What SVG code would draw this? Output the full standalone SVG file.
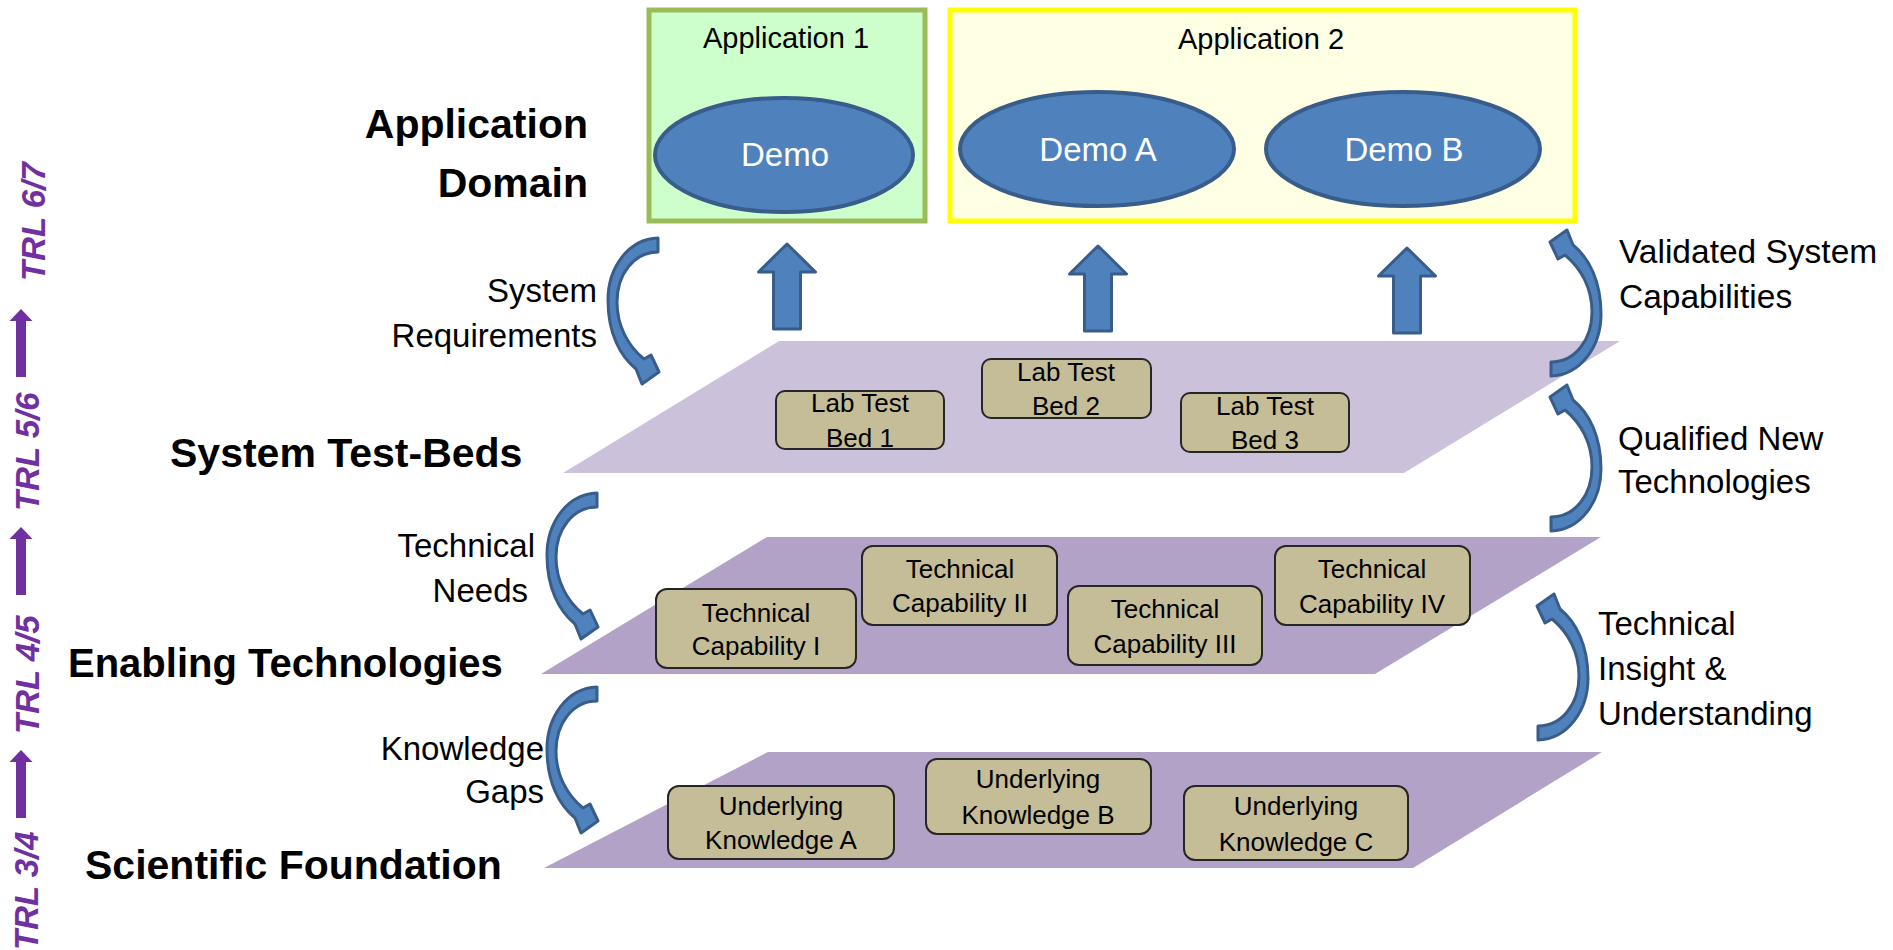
<svg xmlns="http://www.w3.org/2000/svg" xmlns:xlink="http://www.w3.org/1999/xlink" width="1893" height="950" viewBox="0 0 1893 950">
<defs>
<style>
text{font-family:"Liberation Sans",Arial,sans-serif;fill:#000}
.hdr{font-size:41px;font-weight:bold}
.lbl{font-size:33px}
.end{text-anchor:end}
.box{fill:#C4BD97;stroke:#262626;stroke-width:2}
.bt{font-size:26px;text-anchor:middle}
.demo{fill:#4F81BD;stroke:#385D8A;stroke-width:4}
.dt{font-size:33px;fill:#fff;text-anchor:middle}
.blk{fill:#4F81BD;stroke:#385D8A;stroke-width:3;stroke-linejoin:round}
.trl{font-size:33px;font-weight:bold;font-style:italic;fill:#7030A0}
.trla{fill:#7030A0}
</style>
<path id="curv" d="M0,0 C-30,1 -50,30 -50,62 C-50,95 -38,118 -22,131 L-16,146 L1,134 L-7,117 L-14,121 C-30,108 -41,88 -41,64 C-41,36 -24,14 0,14 Z"/>
<path id="up" d="M0,0 L28.5,28 L13.5,28 L13.5,85 L-13.5,85 L-13.5,28 L-28.5,28 Z"/>
<path id="trlup" d="M0,0 L11.5,12 L5,12 L5,68 L-5,68 L-5,12 L-11.5,12 Z"/>
</defs>
<rect width="1893" height="950" fill="#fff"/>

<g id="trl-scale">
<text class="trl" transform="translate(45,281) rotate(-90)">TRL 6/7</text>
<text class="trl" transform="translate(39,511) rotate(-90)">TRL 5/6</text>
<text class="trl" transform="translate(39,734) rotate(-90)">TRL 4/5</text>
<text class="trl" transform="translate(38,950) rotate(-90)">TRL 3/4</text>
<use xlink:href="#trlup" class="trla" x="21" y="309"/>
<use xlink:href="#trlup" class="trla" x="21" y="527"/>
<use xlink:href="#trlup" class="trla" x="21" y="750"/>
</g>

<g id="layer-labels">
<text class="hdr end" x="588" y="138">Application</text>
<text class="hdr end" x="588" y="197">Domain</text>
<text class="hdr" x="170" y="467" font-size="37">System Test-Beds</text>
<text class="hdr" x="68" y="677" style="font-size:40px">Enabling Technologies</text>
<text class="hdr" x="85" y="879" style="font-size:41px">Scientific Foundation</text>
</g>

<g id="plane-system-test-beds">
<polygon points="779,341 1620,341 1404,473 563,473" fill="#CCC1DA"/>
</g>
<g id="plane-enabling-technologies">
<polygon points="767,537 1601,537 1375,674 541,674" fill="#B3A2C7"/>
</g>
<g id="plane-scientific-foundation">
<polygon points="768,752 1602,752 1413,868 544,868" fill="#B3A2C7"/>
</g>

<g id="application-1">
<rect x="649" y="10" width="276" height="211" fill="#CCFFCC" stroke="#9BBB59" stroke-width="5"/>
<text class="lbl" x="786" y="48" text-anchor="middle" style="font-size:29px">Application 1</text>
</g>
<g id="demo">
<ellipse class="demo" cx="784" cy="155" rx="129" ry="57"/>
<text class="dt" x="785" y="166">Demo</text>
</g>
<g id="application-2">
<rect x="950" y="10" width="625" height="211" fill="#FFFFE3" stroke="#FFFF00" stroke-width="5"/>
<text class="lbl" x="1261" y="49" text-anchor="middle" style="font-size:29px">Application 2</text>
</g>
<g id="demo-a">
<ellipse class="demo" cx="1097" cy="149" rx="137" ry="57"/>
<text class="dt" x="1098" y="161">Demo A</text>
</g>
<g id="demo-b">
<ellipse class="demo" cx="1403" cy="149" rx="137" ry="57"/>
<text class="dt" x="1404" y="161">Demo B</text>
</g>

<g id="lab-test-bed-1">
<rect class="box" x="776" y="391" width="168" height="58" rx="9"/>
<text class="bt" x="860" y="412">Lab Test</text>
<text class="bt" x="860" y="447">Bed 1</text>
</g>
<g id="lab-test-bed-2">
<rect class="box" x="982" y="359" width="169" height="59" rx="9"/>
<text class="bt" x="1066" y="381">Lab Test</text>
<text class="bt" x="1066" y="415">Bed 2</text>
</g>
<g id="lab-test-bed-3">
<rect class="box" x="1181" y="393" width="168" height="59" rx="9"/>
<text class="bt" x="1265" y="415">Lab Test</text>
<text class="bt" x="1265" y="449">Bed 3</text>
</g>

<g id="technical-capability-1">
<rect class="box" x="656" y="589" width="200" height="79" rx="11"/>
<text class="bt" x="756" y="622">Technical</text>
<text class="bt" x="756" y="655">Capability I</text>
</g>
<g id="technical-capability-2">
<rect class="box" x="862" y="546" width="195" height="79" rx="11"/>
<text class="bt" x="960" y="578">Technical</text>
<text class="bt" x="960" y="612">Capability II</text>
</g>
<g id="technical-capability-3">
<rect class="box" x="1068" y="586" width="194" height="79" rx="11"/>
<text class="bt" x="1165" y="618">Technical</text>
<text class="bt" x="1165" y="653">Capability III</text>
</g>
<g id="technical-capability-4">
<rect class="box" x="1275" y="546" width="195" height="79" rx="11"/>
<text class="bt" x="1372" y="578">Technical</text>
<text class="bt" x="1372" y="613">Capability IV</text>
</g>

<g id="underlying-knowledge-a">
<rect class="box" x="668" y="786" width="226" height="73" rx="11"/>
<text class="bt" x="781" y="815">Underlying</text>
<text class="bt" x="781" y="849">Knowledge A</text>
</g>
<g id="underlying-knowledge-b">
<rect class="box" x="926" y="759" width="225" height="75" rx="11"/>
<text class="bt" x="1038" y="788">Underlying</text>
<text class="bt" x="1038" y="824">Knowledge B</text>
</g>
<g id="underlying-knowledge-c">
<rect class="box" x="1184" y="786" width="224" height="74" rx="11"/>
<text class="bt" x="1296" y="815">Underlying</text>
<text class="bt" x="1296" y="851">Knowledge C</text>
</g>

<g id="connectors">
<use xlink:href="#up" class="blk" x="787" y="244"/>
<use xlink:href="#up" class="blk" x="1098" y="246"/>
<use xlink:href="#up" class="blk" x="1407" y="248"/>
<use xlink:href="#curv" class="blk" transform="translate(658,238)"/>
<use xlink:href="#curv" class="blk" transform="translate(597,493)"/>
<use xlink:href="#curv" class="blk" transform="translate(597,687)"/>
<use xlink:href="#curv" class="blk" transform="translate(1551,376) rotate(180)"/>
<use xlink:href="#curv" class="blk" transform="translate(1551,531) rotate(180)"/>
<use xlink:href="#curv" class="blk" transform="translate(1538,740) rotate(180)"/>
</g>

<g id="connector-labels">
<text class="lbl end" x="597" y="302">System</text>
<text class="lbl end" x="597" y="347">Requirements</text>
<text class="lbl end" x="535" y="557">Technical</text>
<text class="lbl end" x="528" y="602">Needs</text>
<text class="lbl end" x="544" y="760">Knowledge</text>
<text class="lbl end" x="544" y="803">Gaps</text>
<text class="lbl" x="1619" y="263" style="font-size:33.5px">Validated System</text>
<text class="lbl" x="1619" y="308" style="font-size:33.5px">Capabilities</text>
<text class="lbl" x="1618" y="450">Qualified New</text>
<text class="lbl" x="1618" y="493">Technologies</text>
<text class="lbl" x="1598" y="635">Technical</text>
<text class="lbl" x="1598" y="680">Insight &amp;</text>
<text class="lbl" x="1598" y="725">Understanding</text>
</g>
</svg>
